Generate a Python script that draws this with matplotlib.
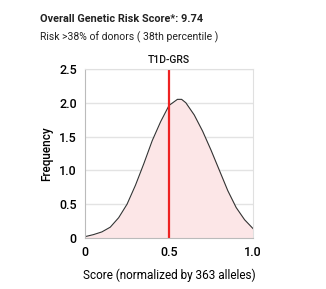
import matplotlib
matplotlib.use("Agg")
import matplotlib.pyplot as plt

# score distribution
score = [0.0, 0.05, 0.1, 0.15, 0.2, 0.25, 0.3, 0.35, 0.4, 0.45, 0.5, 0.55,
         0.575, 0.6, 0.65, 0.7, 0.75, 0.8, 0.85, 0.9, 0.95, 1.0]
freq = [0.02, 0.05, 0.09, 0.16, 0.30, 0.50, 0.78, 1.10, 1.44, 1.72, 1.96, 2.05,
        2.05, 2.00, 1.82, 1.58, 1.30, 1.00, 0.70, 0.45, 0.27, 0.14]
marker_score = 0.5
yticks = [0, 0.5, 1.0, 1.5, 2.0, 2.5]
yticklabels = ["0", "0.5", "1.0", "1.5", "2.0", "2.5"]
xticks = [0, 0.5, 1.0]
xticklabels = ["0", "0.5", "1.0"]

plt.rcParams['font.family'] = ['Roboto', 'DejaVu Sans']

fig = plt.figure(figsize=(3.26, 2.89), dpi=100)
ax = fig.add_axes([0.261, 0.1765, 0.515, 0.585])

ax.fill_between(score, freq, 0, color="#fce6e7", lw=0)
ax.plot(score, freq, color="#333333", lw=0.8)
ax.axvline(marker_score, color="#ee2222", lw=1.6)
ax.text(marker_score, 2.56, "T1D-GRS", ha="center", va="bottom",
        fontsize=7.5, fontweight="medium", color="#111111")

ax.set_xlim(0, 1.0)
ax.set_ylim(0, 2.5)
ax.set_yticks(yticks)
ax.set_yticklabels(yticklabels)
ax.set_xticks(xticks)
ax.set_xticklabels(xticklabels)
ax.tick_params(length=0, labelsize=9, pad=6)
for lab in ax.get_xticklabels() + ax.get_yticklabels():
    lab.set_fontweight("medium")
ax.yaxis.grid(True, color="#e3e3e3", lw=1)
ax.set_axisbelow(True)
for s in ["left", "bottom"]:
    ax.spines[s].set_color("#bbbbbb")
for s in ["right", "top"]:
    ax.spines[s].set_color("#e0e0e0")

ax.set_ylabel("Frequency", fontsize=8.5, fontweight="medium", labelpad=4)
ax.set_xlabel("Score (normalized by 363 alleles)", fontsize=8.5, labelpad=7)

fig.text(40 / 326, 1 - 19 / 289, "Overall Genetic Risk Score*: 9.74",
         fontsize=7.8, fontweight="bold", va="center", color="#222222")
fig.text(40 / 326, 1 - 37 / 289, "Risk >38% of donors ( 38th percentile )",
         fontsize=7.5, va="center", color="#222222")

fig.savefig("out.png", dpi=100)
